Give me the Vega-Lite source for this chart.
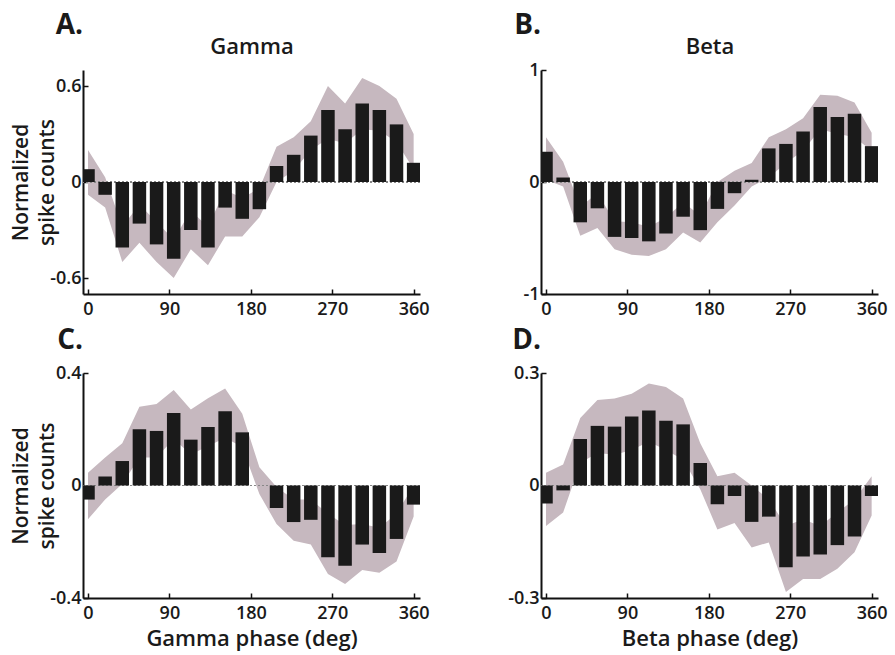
{
  "$schema": "https://vega.github.io/schema/vega-lite/v6.json",
  "background": "white",
  "padding": {"left": 10, "top": 12, "right": 5, "bottom": 5},
  "config": {
    "view": {"stroke": null},
    "font": "Open Sans",
    "title": {"font": "Open Sans", "fontWeight": "bold", "fontSize": 28, "color": "#1a1a1a"},
    "axis": {
      "labelFont": "Open Sans", "labelFontWeight": 600, "labelFontSize": 18, "labelColor": "#1a1a1a",
      "titleFont": "Open Sans", "titleFontWeight": 600, "titleColor": "#1a1a1a",
      "domain": true, "domainColor": "#111111", "domainWidth": 2, "domainOpacity": 1,
      "tickColor": "#111111", "tickWidth": 1.5, "zindex": 1,
      "tickSize": -5, "grid": false, "labelFlush": false
    }
  },
  "datasets": {
    "A": [
      {"phase": 0, "v": 0.08, "lo": -0.08, "hi": 0.2},
      {"phase": 18.95, "v": -0.08, "lo": -0.16, "hi": 0.03},
      {"phase": 37.89, "v": -0.41, "lo": -0.5, "hi": -0.28},
      {"phase": 56.84, "v": -0.26, "lo": -0.38, "hi": -0.14},
      {"phase": 75.79, "v": -0.39, "lo": -0.5, "hi": -0.25},
      {"phase": 94.74, "v": -0.48, "lo": -0.6, "hi": -0.36},
      {"phase": 113.68, "v": -0.3, "lo": -0.42, "hi": -0.18},
      {"phase": 132.63, "v": -0.41, "lo": -0.52, "hi": -0.28},
      {"phase": 151.58, "v": -0.16, "lo": -0.34, "hi": -0.05},
      {"phase": 170.53, "v": -0.23, "lo": -0.34, "hi": -0.1},
      {"phase": 189.47, "v": -0.17, "lo": -0.22, "hi": -0.04},
      {"phase": 208.42, "v": 0.1, "lo": 0.0, "hi": 0.22},
      {"phase": 227.37, "v": 0.17, "lo": 0.07, "hi": 0.28},
      {"phase": 246.32, "v": 0.29, "lo": 0.2, "hi": 0.38},
      {"phase": 265.26, "v": 0.45, "lo": 0.27, "hi": 0.6},
      {"phase": 284.21, "v": 0.33, "lo": 0.24, "hi": 0.49},
      {"phase": 303.16, "v": 0.49, "lo": 0.33, "hi": 0.65},
      {"phase": 322.11, "v": 0.45, "lo": 0.32, "hi": 0.6},
      {"phase": 341.05, "v": 0.36, "lo": 0.25, "hi": 0.52},
      {"phase": 360, "v": 0.12, "lo": 0.08, "hi": 0.3}
    ],
    "B": [
      {"phase": 0, "v": 0.27, "lo": 0.02, "hi": 0.4},
      {"phase": 18.95, "v": 0.04, "lo": -0.04, "hi": 0.18},
      {"phase": 37.89, "v": -0.36, "lo": -0.48, "hi": -0.22},
      {"phase": 56.84, "v": -0.235, "lo": -0.41, "hi": -0.1},
      {"phase": 75.79, "v": -0.49, "lo": -0.6, "hi": -0.35},
      {"phase": 94.74, "v": -0.5, "lo": -0.65, "hi": -0.36},
      {"phase": 113.68, "v": -0.53, "lo": -0.66, "hi": -0.4},
      {"phase": 132.63, "v": -0.46, "lo": -0.6, "hi": -0.32},
      {"phase": 151.58, "v": -0.31, "lo": -0.45, "hi": -0.18},
      {"phase": 170.53, "v": -0.43, "lo": -0.54, "hi": -0.3},
      {"phase": 189.47, "v": -0.24, "lo": -0.36, "hi": 0.0},
      {"phase": 208.42, "v": -0.1, "lo": -0.21, "hi": 0.1},
      {"phase": 227.37, "v": 0.02, "lo": -0.04, "hi": 0.17},
      {"phase": 246.32, "v": 0.3, "lo": 0.04, "hi": 0.4},
      {"phase": 265.26, "v": 0.34, "lo": 0.17, "hi": 0.47},
      {"phase": 284.21, "v": 0.45, "lo": 0.28, "hi": 0.57},
      {"phase": 303.16, "v": 0.67, "lo": 0.47, "hi": 0.78},
      {"phase": 322.11, "v": 0.58, "lo": 0.43, "hi": 0.77},
      {"phase": 341.05, "v": 0.61, "lo": 0.4, "hi": 0.71},
      {"phase": 360, "v": 0.32, "lo": 0.28, "hi": 0.44}
    ],
    "C": [
      {"phase": 0, "v": -0.05, "lo": -0.12, "hi": 0.045},
      {"phase": 18.95, "v": 0.032, "lo": -0.05, "hi": 0.1},
      {"phase": 37.89, "v": 0.087, "lo": 0.005, "hi": 0.15},
      {"phase": 56.84, "v": 0.2, "lo": 0.1, "hi": 0.28},
      {"phase": 75.79, "v": 0.194, "lo": 0.1, "hi": 0.29},
      {"phase": 94.74, "v": 0.258, "lo": 0.165, "hi": 0.34},
      {"phase": 113.68, "v": 0.163, "lo": 0.11, "hi": 0.27},
      {"phase": 132.63, "v": 0.208, "lo": 0.14, "hi": 0.31},
      {"phase": 151.58, "v": 0.264, "lo": 0.17, "hi": 0.345},
      {"phase": 170.53, "v": 0.189, "lo": 0.137, "hi": 0.255},
      {"phase": 189.47, "v": 0.0, "lo": -0.03, "hi": 0.065},
      {"phase": 208.42, "v": -0.08, "lo": -0.137, "hi": -0.005},
      {"phase": 227.37, "v": -0.13, "lo": -0.196, "hi": -0.05},
      {"phase": 246.32, "v": -0.122, "lo": -0.21, "hi": -0.05},
      {"phase": 265.26, "v": -0.255, "lo": -0.315, "hi": -0.1},
      {"phase": 284.21, "v": -0.285, "lo": -0.35, "hi": -0.14},
      {"phase": 303.16, "v": -0.21, "lo": -0.3, "hi": -0.137},
      {"phase": 322.11, "v": -0.24, "lo": -0.31, "hi": -0.15},
      {"phase": 341.05, "v": -0.19, "lo": -0.27, "hi": -0.1},
      {"phase": 360, "v": -0.068, "lo": -0.11, "hi": 0.0}
    ],
    "D": [
      {"phase": 0, "v": -0.048, "lo": -0.108, "hi": 0.034},
      {"phase": 18.95, "v": -0.013, "lo": -0.072, "hi": 0.056},
      {"phase": 37.89, "v": 0.124, "lo": 0.06, "hi": 0.18},
      {"phase": 56.84, "v": 0.159, "lo": 0.087, "hi": 0.228},
      {"phase": 75.79, "v": 0.157, "lo": 0.082, "hi": 0.232},
      {"phase": 94.74, "v": 0.184, "lo": 0.095, "hi": 0.245},
      {"phase": 113.68, "v": 0.2, "lo": 0.117, "hi": 0.272},
      {"phase": 132.63, "v": 0.173, "lo": 0.095, "hi": 0.263},
      {"phase": 151.58, "v": 0.163, "lo": 0.069, "hi": 0.232},
      {"phase": 170.53, "v": 0.06, "lo": -0.01, "hi": 0.113},
      {"phase": 189.47, "v": -0.05, "lo": -0.117, "hi": 0.025},
      {"phase": 208.42, "v": -0.028, "lo": -0.1, "hi": 0.034},
      {"phase": 227.37, "v": -0.097, "lo": -0.165, "hi": 0.0},
      {"phase": 246.32, "v": -0.083, "lo": -0.152, "hi": -0.037},
      {"phase": 265.26, "v": -0.218, "lo": -0.284, "hi": -0.108},
      {"phase": 284.21, "v": -0.189, "lo": -0.249, "hi": -0.09},
      {"phase": 303.16, "v": -0.184, "lo": -0.249, "hi": -0.108},
      {"phase": 322.11, "v": -0.159, "lo": -0.222, "hi": -0.072},
      {"phase": 341.05, "v": -0.136, "lo": -0.178, "hi": -0.037},
      {"phase": 360, "v": -0.028, "lo": -0.08, "hi": 0.025}
    ]
  },
  "columns": 2,
  "bounds": "flush",
  "spacing": {"row": 79, "column": 121},
  "concat": [
    {
      "width": 337, "height": 224,
      "data": {"name": "A"},
      "title": {"text": "A.", "anchor": "start", "frame": "group", "align": "right", "offset": -5},
      "layer": [
        {
          "mark": {"type": "area", "color": "#c6b8bf", "clip": true},
          "encoding": {
            "x": {"field": "phase", "type": "quantitative", "scale": {"domain": [0, 361.5], "nice": false, "zero": false},
                  "axis": {"orient": "top", "title": "Gamma", "titleFontSize": 22, "titlePadding": 12, "labels": false, "ticks": false, "domainOpacity": 0}},
            "y": {"field": "lo", "type": "quantitative", "scale": {"domain": [-0.7, 0.7], "nice": false},
                  "axis": {"values": [-0.6, 0, 0.6], "domain": true, "title": ["Normalized", "spike counts"], "titleFontSize": 21, "titleLineHeight": 26, "titlePadding": -8, "labelPadding": 7, "labelExpr": "(datum.value < 0 ? '-' : '') + format(abs(datum.value), '')"}},
            "y2": {"field": "hi"}
          }
        },
        {
          "mark": {"type": "rule", "color": "#888888", "strokeWidth": 0.8, "strokeDash": [2, 2]},
          "encoding": {"y": {"datum": 0}}
        },
        {
          "mark": {"type": "bar", "size": 13.5, "color": "#1a1a1a", "clip": true},
          "encoding": {
            "x": {"field": "phase", "type": "quantitative", "axis": {"orient": "bottom", "domain": true, "domainOpacity": 1, "values": [0, 90, 180, 270, 360], "title": null, "labelPadding": 11}},
            "y": {"field": "v", "type": "quantitative",
                  "axis": {"values": [-0.6, 0, 0.6], "domain": true, "title": ["Normalized", "spike counts"], "titleFontSize": 21, "titleLineHeight": 26, "titlePadding": -8, "labelPadding": 7, "labelExpr": "(datum.value < 0 ? '-' : '') + format(abs(datum.value), '')"}}
          }
        }
      ],
      "resolve": {"axis": {"x": "independent"}}
    },
    {
      "width": 337, "height": 224,
      "data": {"name": "B"},
      "title": {"text": "B.", "anchor": "start", "frame": "group", "align": "right", "offset": -5},
      "layer": [
        {
          "mark": {"type": "area", "color": "#c6b8bf", "clip": true},
          "encoding": {
            "x": {"field": "phase", "type": "quantitative", "scale": {"domain": [0, 361.5], "nice": false, "zero": false},
                  "axis": {"orient": "top", "title": "Beta", "titleFontSize": 22, "titlePadding": 12, "labels": false, "ticks": false, "domainOpacity": 0}},
            "y": {"field": "lo", "type": "quantitative", "scale": {"domain": [-1, 1], "nice": false},
                  "axis": {"values": [-1, 0, 1], "domain": true, "title": null, "labelPadding": 7, "labelExpr": "(datum.value < 0 ? '-' : '') + format(abs(datum.value), '')"}},
            "y2": {"field": "hi"}
          }
        },
        {
          "mark": {"type": "rule", "color": "#888888", "strokeWidth": 0.8, "strokeDash": [2, 2]},
          "encoding": {"y": {"datum": 0}}
        },
        {
          "mark": {"type": "bar", "size": 13.5, "color": "#1a1a1a", "clip": true},
          "encoding": {
            "x": {"field": "phase", "type": "quantitative", "axis": {"orient": "bottom", "domain": true, "domainOpacity": 1, "values": [0, 90, 180, 270, 360], "title": null, "labelPadding": 11}},
            "y": {"field": "v", "type": "quantitative",
                  "axis": {"values": [-1, 0, 1], "domain": true, "title": null, "labelPadding": 7, "labelExpr": "(datum.value < 0 ? '-' : '') + format(abs(datum.value), '')"}}
          }
        }
      ],
      "resolve": {"axis": {"x": "independent"}}
    },
    {
      "width": 337, "height": 225,
      "data": {"name": "C"},
      "title": {"text": "C.", "anchor": "start", "frame": "group", "align": "right", "offset": 9},
      "layer": [
        {
          "mark": {"type": "area", "color": "#c6b8bf", "clip": true},
          "encoding": {
            "x": {"field": "phase", "type": "quantitative", "scale": {"domain": [0, 361.5], "nice": false, "zero": false}},
            "y": {"field": "lo", "type": "quantitative", "scale": {"domain": [-0.4, 0.4], "nice": false},
                  "axis": {"values": [-0.4, 0, 0.4], "domain": true, "title": ["Normalized", "spike counts"], "titleFontSize": 21, "titleLineHeight": 26, "titlePadding": -8, "labelPadding": 7, "labelExpr": "(datum.value < 0 ? '-' : '') + format(abs(datum.value), '')"}},
            "y2": {"field": "hi"}
          }
        },
        {
          "mark": {"type": "rule", "color": "#888888", "strokeWidth": 0.8, "strokeDash": [2, 2]},
          "encoding": {"y": {"datum": 0}}
        },
        {
          "mark": {"type": "bar", "size": 13.5, "color": "#1a1a1a", "clip": true},
          "encoding": {
            "x": {"field": "phase", "type": "quantitative", "axis": {"orient": "bottom", "domain": true, "domainOpacity": 1, "values": [0, 90, 180, 270, 360], "title": "Gamma phase (deg)", "titleFontSize": 22, "titlePadding": 6, "labelPadding": 11}},
            "y": {"field": "v", "type": "quantitative",
                  "axis": {"values": [-0.4, 0, 0.4], "domain": true, "title": ["Normalized", "spike counts"], "titleFontSize": 21, "titleLineHeight": 26, "titlePadding": -8, "labelPadding": 7, "labelExpr": "(datum.value < 0 ? '-' : '') + format(abs(datum.value), '')"}}
          }
        }
      ]
    },
    {
      "width": 337, "height": 225,
      "data": {"name": "D"},
      "title": {"text": "D.", "anchor": "start", "frame": "group", "align": "right", "offset": 9},
      "layer": [
        {
          "mark": {"type": "area", "color": "#c6b8bf", "clip": true},
          "encoding": {
            "x": {"field": "phase", "type": "quantitative", "scale": {"domain": [0, 361.5], "nice": false, "zero": false}},
            "y": {"field": "lo", "type": "quantitative", "scale": {"domain": [-0.3, 0.3], "nice": false},
                  "axis": {"values": [-0.3, 0, 0.3], "domain": true, "title": null, "labelPadding": 7, "labelExpr": "(datum.value < 0 ? '-' : '') + format(abs(datum.value), '')"}},
            "y2": {"field": "hi"}
          }
        },
        {
          "mark": {"type": "rule", "color": "#888888", "strokeWidth": 0.8, "strokeDash": [2, 2]},
          "encoding": {"y": {"datum": 0}}
        },
        {
          "mark": {"type": "bar", "size": 13.5, "color": "#1a1a1a", "clip": true},
          "encoding": {
            "x": {"field": "phase", "type": "quantitative", "axis": {"orient": "bottom", "domain": true, "domainOpacity": 1, "values": [0, 90, 180, 270, 360], "title": "Beta phase (deg)", "titleFontSize": 22, "titlePadding": 6, "labelPadding": 11}},
            "y": {"field": "v", "type": "quantitative",
                  "axis": {"values": [-0.3, 0, 0.3], "domain": true, "title": null, "labelPadding": 7, "labelExpr": "(datum.value < 0 ? '-' : '') + format(abs(datum.value), '')"}}
          }
        }
      ]
    }
  ]
}
